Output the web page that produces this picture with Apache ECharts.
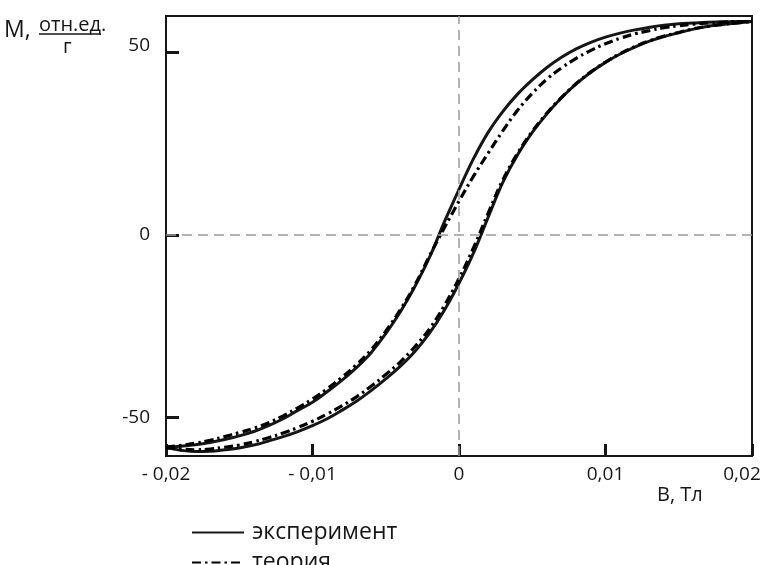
<!DOCTYPE html>
<html>
<head>
<meta charset="utf-8">
<script src="https://cdn.jsdelivr.net/npm/echarts@6/dist/echarts.min.js"></script>
<style>
  html, body { margin: 0; padding: 0; background: #ffffff; }
  #chart { width: 762px; height: 565px; }
</style>
</head>
<body>
<div id="chart"></div>
<script>
// Magnetic field B, Тл (shared by all four branches)
const fieldB = [
  -0.020, -0.019, -0.018, -0.017, -0.016, -0.015, -0.014, -0.013, -0.012, -0.011,
  -0.010, -0.009, -0.008, -0.007, -0.006, -0.005, -0.004, -0.003, -0.002, -0.001,
   0.000,
   0.001,  0.002,  0.003,  0.004,  0.005,  0.006,  0.007,  0.008,  0.009,  0.010,
   0.011,  0.012,  0.013,  0.014,  0.015,  0.016,  0.017,  0.018,  0.019,  0.020
];

// Magnetisation M, отн.ед./г — experiment, descending branch
const expDescending = [
  -58.0, -57.8, -57.4, -56.8, -56.0, -55.0, -53.8, -52.2, -50.3, -48.0,
  -45.8, -42.9, -39.8, -36.3, -32.2, -27.0, -21.0, -14.0, -6.0, 3.6,
   12.5,
   21.0, 28.2, 33.9, 38.6, 42.5, 45.9, 48.7, 51.0, 52.8, 54.2,
   55.3, 56.2, 56.9, 57.5, 57.9, 58.1, 58.3, 58.4, 58.5, 58.5
];

// experiment, ascending branch
const expAscending = [
  -58.2, -58.9, -59.3, -59.2, -58.8, -58.3, -57.5, -56.4, -55.2, -53.8,
  -52.2, -50.3, -48.0, -45.5, -42.6, -39.4, -35.9, -31.8, -26.8, -20.6,
  -13.2,
  -4.8, 5.0, 14.5, 22.0, 28.1, 33.2, 37.6, 41.4, 44.6, 47.3,
   49.6, 51.5, 53.1, 54.4, 55.4, 56.4, 57.2, 57.7, 58.1, 58.5
];

// theory, descending branch
const theoryDescending = [
  -58.0, -57.6, -57.0, -56.2, -55.2, -54.1, -52.9, -51.4, -49.5, -47.3,
  -44.9, -42.1, -39.0, -35.5, -31.4, -26.3, -20.4, -13.6, -5.6, 2.0,
   9.3,
   16.2, 22.5, 28.6, 34.2, 38.8, 42.7, 45.8, 48.4, 50.6, 52.4,
   53.9, 55.1, 56.0, 56.8, 57.3, 57.8, 58.1, 58.3, 58.5, 58.5
];

// theory, ascending branch
const theoryAscending = [
  -58.2, -58.6, -58.8, -58.6, -58.1, -57.5, -56.6, -55.5, -54.2, -52.7,
  -51.0, -49.0, -46.8, -44.3, -41.4, -38.2, -34.7, -30.5, -25.6, -19.3,
  -11.9,
  -3.4, 6.1, 15.2, 22.4, 28.4, 33.4, 37.7, 41.5, 44.7, 47.4,
   49.7, 51.6, 53.2, 54.5, 55.5, 56.5, 57.2, 57.7, 58.1, 58.5
];

// Tick positions
const xTicks = [-0.02, -0.01, 0, 0.01, 0.02];
const yTicks = [-50, 0, 50];

const legendNames = ['эксперимент', 'теория'];

const FONT = "'Open Sans', 'DejaVu Sans', sans-serif";
const INK = '#161616';

function pairs(ys) {
  return fieldB.map((b, i) => [b, ys[i]]);
}

function formatB(v) {
  if (Math.abs(v) < 1e-9) return '0';
  const s = Math.abs(v).toFixed(2).replace('.', ',');
  if (v < 0) return '- ' + s;
  // the last label is pulled in so it stays inside the frame of the page
  return v > 0.0199 ? '{last|' + s + '}' : s;
}

const solidStyle = { color: INK, width: 3, type: 'solid' };
const dashDotStyle = { color: '#000000', width: 3.2, type: [9, 4, 2.5, 4] };

const chart = echarts.init(document.getElementById('chart'), null, { renderer: 'canvas' });

chart.setOption({
  animation: false,
  backgroundColor: '#ffffff',
  grid: {
    left: 166, top: 16, width: 586, height: 440,
    outerBoundsMode: 'none', containLabel: false,
    show: true, borderColor: INK, borderWidth: 2, backgroundColor: 'transparent'
  },
  xAxis: {
    type: 'value',
    min: -0.02, max: 0.02, interval: 0.01,
    axisLine: { show: true, onZero: false, lineStyle: { color: INK, width: 2 } },
    axisTick: { show: true, inside: true, length: 12, customValues: xTicks,
                lineStyle: { color: INK, width: 3 } },
    axisLabel: { show: true, customValues: xTicks, formatter: formatB, margin: 9,
                 fontSize: 19, color: INK, fontFamily: FONT,
                 showMinLabel: true, showMaxLabel: true,
                 rich: { last: { fontSize: 19, color: INK, fontFamily: FONT,
                                 padding: [0, 20, 0, 0] } } },
    splitLine: { show: false }
  },
  yAxis: {
    type: 'value',
    min: -60.5, max: 60,
    axisLine: { show: true, onZero: false, lineStyle: { color: INK, width: 2 } },
    axisTick: { show: true, inside: true, length: 13, customValues: yTicks,
                lineStyle: { color: INK, width: 3 } },
    axisLabel: {
      show: true, customValues: yTicks, margin: 16,
      fontSize: 19, color: INK, fontFamily: FONT,
      formatter: v => (v === 50 ? '{hi|50}' : String(v)),
      rich: { hi: { fontSize: 19, color: INK, fontFamily: FONT, padding: [0, 0, 13, 0] } }
    },
    splitLine: { show: false }
  },
  legend: {
    orient: 'vertical',
    left: 186, top: 516, height: 90,
    itemWidth: 52, itemHeight: 14, itemGap: 7,
    data: legendNames,
    itemStyle: { color: 'rgba(0,0,0,0)', borderWidth: 0, opacity: 0 },
    textStyle: { fontSize: 23, color: INK, fontFamily: FONT, padding: [0, 0, 0, 3] }
  },
  graphic: [
    { type: 'text', left: 4, top: 19,
      style: { text: 'М,', font: '23px ' + FONT, fill: INK } },
    { type: 'text', left: 39, top: 15,
      style: { text: 'отн.ед.', font: '20px ' + FONT, fill: INK } },
    { type: 'line', shape: { x1: 39, y1: 34, x2: 101, y2: 34 },
      style: { stroke: INK, lineWidth: 1.5 } },
    { type: 'text', left: 63, top: 37,
      style: { text: 'г', font: '20px ' + FONT, fill: INK } },
    { type: 'text', left: 657, top: 485,
      style: { text: 'В, Тл', font: '20px ' + FONT, fill: INK } }
  ],
  series: [
    {
      name: 'zero-lines', type: 'line', data: [], silent: true,
      markLine: {
        silent: true, symbol: ['none', 'none'], label: { show: false },
        lineStyle: { color: '#9c9c9c', type: [10, 6], width: 1.5 },
        data: [{ yAxis: 0 }, { xAxis: 0 }]
      }
    },
    { name: legendNames[0], type: 'line', data: pairs(expDescending), symbol: 'none',
      smooth: 0.4, lineStyle: solidStyle, itemStyle: { color: INK } },
    { name: legendNames[0], type: 'line', data: pairs(expAscending), symbol: 'none',
      smooth: 0.4, lineStyle: solidStyle, itemStyle: { color: INK } },
    { name: legendNames[1], type: 'line', data: pairs(theoryDescending), symbol: 'none',
      smooth: 0.4, lineStyle: dashDotStyle, itemStyle: { color: '#000' } },
    { name: legendNames[1], type: 'line', data: pairs(theoryAscending), symbol: 'none',
      smooth: 0.4, lineStyle: dashDotStyle, itemStyle: { color: '#000' } }
  ]
});
</script>
</body>
</html>
